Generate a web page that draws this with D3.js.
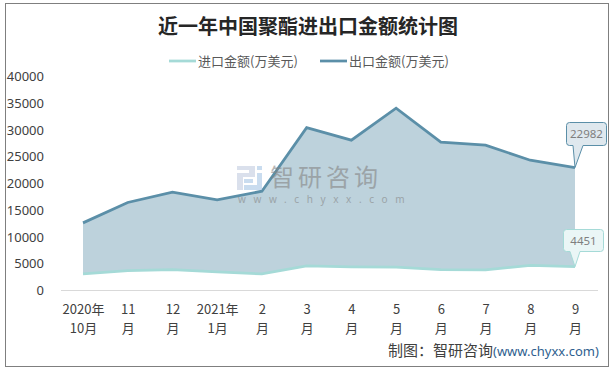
<!DOCTYPE html>
<html>
<head>
<meta charset="utf-8">
<style>
  html, body { margin: 0; padding: 0; background: #fff; }
  svg { display: block; }
  text { font-family: "Noto Sans CJK SC", "Noto Sans", sans-serif; }
</style>
<script src="https://cdn.jsdelivr.net/npm/d3@7"></script>
</head>
<body>
<svg id="chart"></svg>
<script>
const months = ['2020年|10月', '11|月', '12|月', '2021年|1月', '2|月', '3|月', '4|月', '5|月', '6|月', '7|月', '8|月', '9|月'];
const importValues = [3100, 3700, 3900, 3500, 3100, 4600, 4400, 4350, 3900, 3850, 4700, 4451];
const exportValues = [12640, 16450, 18370, 16940, 18560, 30430, 28100, 34070, 27720, 27160, 24350, 22982];
const yTicks = [0, 5000, 10000, 15000, 20000, 25000, 30000, 35000, 40000];
const seriesNames = ['进口金额(万美元)', '出口金额(万美元)'];
const chartTitle = '近一年中国聚酯进出口金额统计图';
const sourceNote = '制图：智研咨询';
const sourceUrl = '(www.chyxx.com)';

const width = 616;
const height = 370;
const importColor = '#a5dad7';
const exportColor = '#5b8fa8';

const svg = d3.select('svg#chart')
  .attr('width', width)
  .attr('height', height);

// outer frame
svg.append('rect')
  .attr('x', 5.5)
  .attr('y', 3.5)
  .attr('width', 603)
  .attr('height', 363)
  .attr('fill', '#fff')
  .attr('stroke', '#7f7f7f')
  .attr('stroke-width', 1);

const x = d3.scalePoint()
  .domain(months)
  .range([83, 575]);

const y = d3.scaleLinear()
  .domain([0, 40000])
  .range([290.5, 76.5]);

// band between the two series
const band = d3.area()
  .x((d, i) => x(months[i]))
  .y0((d, i) => y(importValues[i]))
  .y1((d) => y(d));

svg.append('path')
  .attr('d', band(exportValues))
  .attr('fill', '#bdd2dc');

const line = d3.line()
  .x((d, i) => x(months[i]))
  .y((d) => y(d));

svg.append('path')
  .attr('d', line(importValues))
  .attr('fill', 'none')
  .attr('stroke', importColor)
  .attr('stroke-width', 2.75);

svg.append('path')
  .attr('d', line(exportValues))
  .attr('fill', 'none')
  .attr('stroke', exportColor)
  .attr('stroke-width', 2.75);

// axes
const yAxis = svg.append('g')
  .attr('transform', 'translate(44,0)')
  .call(d3.axisLeft(y).tickValues(yTicks).tickSize(0).tickPadding(0).tickFormat(d3.format('d')));
yAxis.select('.domain').remove();
yAxis.selectAll('text')
  .attr('fill', '#404040')
  .style('font-family', '"Noto Sans", sans-serif')
  .style('font-size', '13px');

const xAxis = svg.append('g')
  .attr('transform', `translate(0,${y(0)})`)
  .call(d3.axisBottom(x).tickSize(0).tickFormat(''));
xAxis.select('.domain')
  .attr('d', 'M61,0H598')
  .attr('stroke', '#d9d9d9')
  .attr('stroke-width', 1);
xAxis.selectAll('.tick text').remove();
xAxis.selectAll('.tick').each(function (d) {
  const parts = d.split('|');
  const label = d3.select(this).append('text')
    .attr('text-anchor', 'middle')
    .attr('fill', '#404040')
    .style('font-size', '13px');
  parts.forEach((part, i) => {
    label.append('tspan')
      .attr('x', 0)
      .attr('y', 23.5 + i * 18.5)
      .text(part);
  });
});

// watermark
const mark = svg.append('g').attr('opacity', 0.6);
mark.append('path')
  .attr('d', 'M237,166h18v11h-12v13h-6v-17h12v-3h-12z')
  .attr('fill', '#c3cde0');
mark.append('path')
  .attr('d', 'M257,166h5v4h-5zM257,173h5v17h-18v-5h13zM244,179h9v4h-9z')
  .attr('fill', '#a6c6e6');
mark.append('text')
  .attr('x', 270)
  .attr('y', 185.5)
  .attr('fill', '#858585')
  .style('font-size', '24px')
  .style('letter-spacing', '4px')
  .text('智研咨询');
mark.append('text')
  .attr('x', 238)
  .attr('y', 203)
  .attr('fill', '#858585')
  .style('font-size', '10px')
  .style('letter-spacing', '7.6px')
  .style('font-family', '"Noto Sans", sans-serif')
  .text('www.chyxx.com');

// value callouts at the last point
const callout = (value, color, fill, bx, by, bw, bh, tipLeft, tipRight) => {
  const px = x(months[months.length - 1]);
  const py = y(value);
  const g = svg.append('g');
  g.append('path')
    .attr('d', `M${bx + 3},${by}H${bx + bw - 3}Q${bx + bw},${by} ${bx + bw},${by + 3}V${by + bh - 3}Q${bx + bw},${by + bh} ${bx + bw - 3},${by + bh}H${tipRight}L${px},${py}L${tipLeft},${by + bh}H${bx + 3}Q${bx},${by + bh} ${bx},${by + bh - 3}V${by + 3}Q${bx},${by} ${bx + 3},${by}Z`)
    .attr('fill', fill)
    .attr('stroke', color)
    .attr('stroke-width', 1);
  g.append('text')
    .attr('x', bx + bw / 2)
    .attr('y', by + bh / 2 + 4)
    .attr('text-anchor', 'middle')
    .attr('fill', '#7f7f7f')
    .style('font-family', '"Noto Sans", sans-serif')
    .style('font-size', '11.5px')
    .text(value);
};
callout(exportValues[11], exportColor, '#dfe8ee', 566.5, 122.5, 40, 23, 573, 583);
callout(importValues[11], importColor, '#eaf6f6', 563.5, 229.5, 40, 22, 570, 580);

// title
svg.append('text')
  .attr('x', 308)
  .attr('y', 34)
  .attr('text-anchor', 'middle')
  .attr('fill', '#262626')
  .style('font-family', '"DejaVu Serif", "Noto Sans CJK SC", serif')
  .style('font-weight', 'bold')
  .style('font-size', '20px')
  .text(chartTitle);

// legend
const legendX = d3.scaleOrdinal()
  .domain(seriesNames)
  .range([169, 320]);
const legendColor = d3.scaleOrdinal()
  .domain(seriesNames)
  .range([importColor, exportColor]);

const legend = svg.selectAll('.legend')
  .data(seriesNames)
  .join('g')
  .attr('class', 'legend')
  .attr('transform', (d) => `translate(${legendX(d)},61)`);
legend.append('line')
  .attr('x2', 27)
  .attr('stroke', (d) => legendColor(d))
  .attr('stroke-width', 2.75);
legend.append('text')
  .attr('x', 29)
  .attr('y', 4.5)
  .attr('fill', '#595959')
  .style('font-size', '13px')
  .text((d) => d);

// source note
svg.append('text')
  .attr('x', 388)
  .attr('y', 356)
  .attr('fill', '#404040')
  .style('font-size', '15px')
  .text(sourceNote);
svg.append('text')
  .attr('x', 493)
  .attr('y', 356)
  .attr('fill', '#2f5f8f')
  .style('font-family', '"Noto Sans", sans-serif')
  .style('font-size', '13px')
  .text(sourceUrl);
</script>
</body>
</html>
